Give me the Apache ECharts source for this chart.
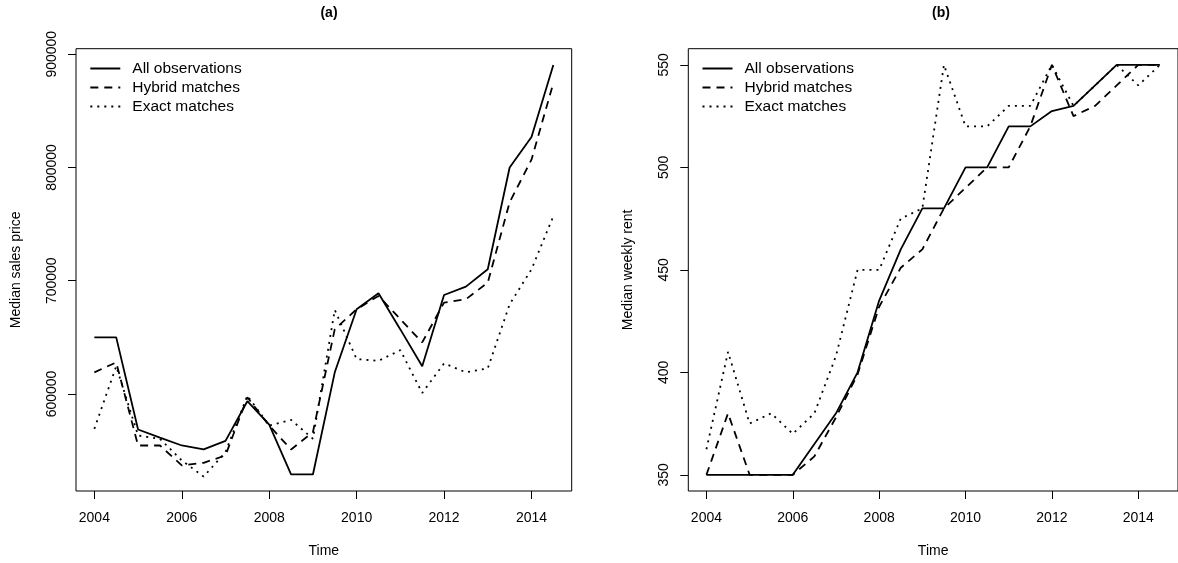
<!DOCTYPE html>
<html>
<head>
<meta charset="utf-8">
<script src="https://cdn.jsdelivr.net/npm/echarts@6/dist/echarts.min.js"></script>
<style>
html,body{margin:0;padding:0;background:#fff;}
#chart{width:1178px;height:563px;}
</style>
</head>
<body>
<div id="chart"></div>
<script>
// ---- data ----
const time = [2004, 2004.5, 2005, 2005.5, 2006, 2006.5, 2007, 2007.5, 2008, 2008.5, 2009,
              2009.5, 2010, 2010.5, 2011, 2011.5, 2012, 2012.5, 2013, 2013.5, 2014, 2014.5];

// (a) Median sales price
const priceAll    = [650000, 650000, 568600, 561500, 554500, 551000, 558600, 593600, 573000, 528900, 528900,
                     619100, 674800, 688900, 657000, 624400, 687400, 694800, 710100, 800000, 826900, 890600];
const priceHybrid = [619100, 627900, 554500, 554500, 536900, 539200, 545700, 597100, 572100, 551000, 566300,
                     657200, 674800, 686600, 666000, 645500, 680700, 683600, 698400, 769300, 806900, 874500];
const priceExact  = [569200, 624400, 563300, 560400, 541300, 527000, 548700, 598500, 572100, 577100, 560400,
                     674200, 630800, 629300, 638700, 600900, 627000, 619100, 622600, 679200, 710000, 757000];

// (b) Median weekly rent
const rentAll    = [350, 350, 350, 350, 350, 365, 380, 400, 435, 460, 480,
                    480, 500, 500, 520, 520, 527.5, 530, 540, 550, 550, 550];
const rentHybrid = [350, 380, 350, 350, 350, 359, 378, 399, 432, 451, 460,
                    480, 490, 500, 500, 520, 550, 525, 530, 540, 550, 550];
const rentExact  = [362.5, 410, 375, 380, 370, 380, 408, 450, 450, 475, 480,
                    550, 520, 520, 530, 530, 550, 530, 540, 550, 540, 550];

const xTicks = [2004, 2006, 2008, 2010, 2012, 2014];
const priceTicks = [600000, 700000, 800000, 900000];
const rentTicks = [350, 400, 450, 500, 550];

const seriesNames = ['All observations', 'Hybrid matches', 'Exact matches'];
const panelTitles = ['(a)', '(b)'];
const xTitle = 'Time';
const yTitles = ['Median sales price', 'Median weekly rent'];

// ---- styles ----
const FONT = "'Liberation Sans', Arial, Helvetica, sans-serif";
const lineStyles = [
  {color: '#000', width: 1.8, type: 'solid'},
  {color: '#000', width: 1.8, type: [8, 6]},
  {color: '#000', width: 1.8, type: [2, 5]}
];

function pairs(vals) { return time.map((t, i) => [t, vals[i]]); }

const panelData = [[priceAll, priceHybrid, priceExact], [rentAll, rentHybrid, rentExact]];

const series = [];
panelData.forEach((arrs, p) => {
  arrs.forEach((vals, k) => {
    series.push({
      name: seriesNames[k],
      type: 'line',
      xAxisIndex: p, yAxisIndex: p,
      data: pairs(vals),
      symbol: 'none', showSymbol: false,
      lineStyle: lineStyles[k],
      itemStyle: {color: '#000'},
      animation: false,
      z: 3 - k
    });
  });
});

const grids = [
  {left: 76, top: 48.7, width: 495.7, height: 443.6},
  {left: 688.3, top: 48.7, width: 495.7, height: 443.6}
];

const plain = v => String(v);

function xAxis(i) {
  return {
    type: 'value', gridIndex: i, min: 2003.58, max: 2014.92,
    name: xTitle, nameLocation: 'middle', nameGap: 53,
    nameTextStyle: {fontFamily: FONT, fontSize: 14, color: '#000'},
    axisLine: {show: false},
    axisTick: {show: true, inside: false, length: 8, customValues: xTicks, lineStyle: {color: '#000', width: 1}},
    axisLabel: {customValues: xTicks, formatter: plain, margin: 20, fontFamily: FONT, fontSize: 14, color: '#000'},
    splitLine: {show: false}
  };
}
function yAxis(i, min, max, ticks) {
  return {
    type: 'value', gridIndex: i, min: min, max: max,
    name: yTitles[i], nameLocation: 'middle', nameGap: 53, nameRotate: 90,
    nameTextStyle: {fontFamily: FONT, fontSize: 14, color: '#000'},
    axisLine: {show: false},
    axisTick: {show: true, inside: false, length: 8, customValues: ticks, lineStyle: {color: '#000', width: 1}},
    axisLabel: {customValues: ticks, formatter: plain, rotate: 90, margin: 17, fontFamily: FONT, fontSize: 14, color: '#000'},
    splitLine: {show: false}
  };
}

function legend(left) {
  return {
    data: seriesNames, orient: 'vertical', left: left, top: 60.5, padding: 0,
    itemWidth: 30, itemHeight: 14, itemGap: 3, selectedMode: false,
    itemStyle: {opacity: 0},
    textStyle: {fontFamily: FONT, fontSize: 15.5, color: '#000', padding: [0, 0, 0, 7]}
  };
}

const chart = echarts.init(document.getElementById('chart'), null, {renderer: 'canvas'});
chart.setOption({
  animation: false,
  backgroundColor: '#fff',
  title: [
    {text: panelTitles[0], left: 324, top: 1, textAlign: 'center',
     textStyle: {fontFamily: FONT, fontSize: 14, fontWeight: 'bold', color: '#000'}},
    {text: panelTitles[1], left: 936, top: 1, textAlign: 'center',
     textStyle: {fontFamily: FONT, fontSize: 14, fontWeight: 'bold', color: '#000'}}
  ],
  grid: grids.map(g => Object.assign({show: true, borderColor: '#000', borderWidth: 1, backgroundColor: 'transparent'}, g)),
  xAxis: [xAxis(0), xAxis(1)],
  yAxis: [yAxis(0, 514300, 904900, priceTicks), yAxis(1, 342.1, 557.9, rentTicks)],
  legend: [legend(89.3), legend(701.5)],
  series: series
});
</script>
</body>
</html>
